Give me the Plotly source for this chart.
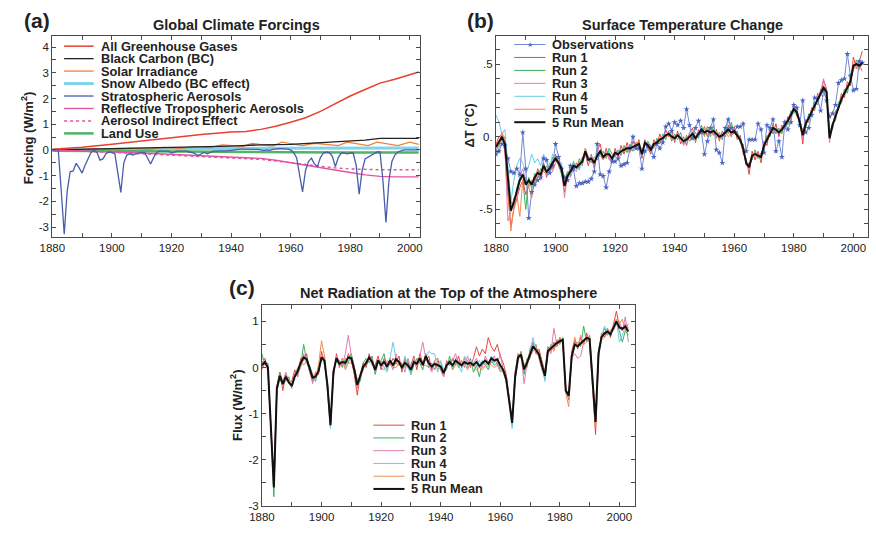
import plotly.graph_objects as go

W, H = 876, 534
years = list(range(1880, 2004))

# ---------------- Panel (a): Global Climate Forcings ----------------
ghg_yr = [1880, 1890, 1900, 1910, 1920, 1930, 1940, 1945, 1950, 1955, 1960, 1965, 1970, 1975, 1980, 1985, 1990, 1995, 2000, 2003]
ghg_val = [0.03, 0.1, 0.22, 0.35, 0.48, 0.6, 0.7, 0.72, 0.8, 0.92, 1.08, 1.25, 1.5, 1.8, 2.1, 2.35, 2.6, 2.75, 2.92, 3.03]

bc_yr = [1880, 1900, 1920, 1940, 1950, 1960, 1970, 1980, 1985, 1990, 2003]
bc_val = [0.0, 0.06, 0.1, 0.15, 0.2, 0.22, 0.28, 0.33, 0.38, 0.45, 0.45]

solar_yr = [1880, 1883, 1889, 1894, 1901, 1906, 1913, 1917, 1923, 1928, 1933, 1937, 1944, 1947, 1954, 1957, 1964, 1968, 1976, 1979, 1986, 1989, 1996, 2000, 2003]
solar_val = [0.0, 0.03, -0.02, 0.05, 0.0, 0.06, 0.02, 0.1, 0.06, 0.13, 0.09, 0.2, 0.14, 0.25, 0.15, 0.3, 0.17, 0.26, 0.17, 0.3, 0.17, 0.3, 0.17, 0.3, 0.22]

snow_yr = [1880, 1900, 1920, 1940, 1960, 1980, 2003]
snow_val = [0.0, 0.03, 0.05, 0.06, 0.07, 0.08, 0.08]

landuse_yr = [1880, 1900, 1920, 1940, 1960, 1980, 2003]
landuse_val = [-0.03, -0.05, -0.07, -0.08, -0.09, -0.1, -0.1]

refl_yr = [1880, 1890, 1900, 1910, 1920, 1930, 1940, 1950, 1955, 1960, 1965, 1970, 1975, 1980, 1985, 1990, 1995, 2003]
refl_val = [0.0, -0.05, -0.08, -0.12, -0.17, -0.22, -0.27, -0.33, -0.4, -0.5, -0.6, -0.7, -0.8, -0.88, -0.97, -1.03, -1.05, -1.05]

indir_yr = [1880, 1890, 1900, 1910, 1920, 1930, 1940, 1950, 1955, 1960, 1965, 1970, 1975, 1980, 1985, 1990, 2003]
indir_val = [0.0, -0.06, -0.1, -0.15, -0.2, -0.25, -0.3, -0.37, -0.43, -0.5, -0.57, -0.63, -0.7, -0.74, -0.76, -0.77, -0.77]

strat_val = [
    0, 0, 0, -1.6, -3.28, -1.6, -0.85, -0.82, -0.52, -0.7,
    -0.9, -0.6, -0.35, -0.1, -0.02, -0.1, -0.4, -0.35, -0.15, -0.08,
    -0.1, -0.15, -0.9, -1.65, -0.5, -0.2, -0.15, -0.2, -0.15, -0.12,
    -0.1, -0.1, -0.3, -0.55, -0.3, -0.1, -0.05, -0.05, -0.05, -0.05,
    -0.12, -0.08, -0.05, -0.05, -0.05, -0.05, -0.08, -0.1, -0.15, -0.22,
    -0.15, -0.1, -0.15, -0.1, -0.05, -0.05, -0.05, -0.05, -0.05, -0.03,
    -0.02, 0, 0.02, 0.03, 0.03, 0.03, 0.02, 0.03, 0.03, 0.02,
    0, -0.02, 0, -0.02, 0.02, 0.05, 0.05, 0.05, 0.05, 0.03,
    0, -0.1, -0.3, -0.9, -1.63, -0.8, -0.45, -0.32, -0.55, -0.65,
    -0.3, -0.12, -0.08, -0.1, -0.25, -0.65, -0.3, -0.12, -0.12, -0.15,
    -0.12, -0.12, -0.6, -1.72, -0.8, -0.35, -0.28, -0.2, -0.12, -0.08,
    -0.08, -1.2, -2.82, -1.2, -0.45, -0.2, -0.08, -0.03, 0, 0,
    0, 0, 0, 0]

# ---------------- Panel (b): Surface Temperature Change ----------------
obs_b = [
    -0.12, -0.10, -0.05, -0.06, -0.15, -0.24, -0.25, -0.22, -0.26, 0.03,
    -0.22, -0.56, -0.38, -0.33, -0.30, -0.28, -0.15, -0.16, -0.25, -0.20,
    -0.05, -0.14, -0.22, -0.28, -0.30, -0.20, -0.22, -0.34, -0.32, -0.32,
    -0.31, -0.31, -0.29, -0.24, -0.05, -0.26, -0.27, -0.35, -0.24, -0.17,
    -0.17, -0.15, -0.20, -0.19, -0.18, -0.08, 0.00, -0.08, -0.08, -0.22,
    -0.10, -0.06, -0.08, -0.14, -0.05, -0.08, -0.04, 0.07, 0.09, 0.04,
    0.10, 0.08, 0.11, 0.06, 0.19, 0.08, -0.01, 0.06, 0.11, 0.03,
    -0.12, -0.03, 0.06, 0.12, -0.09, -0.11, -0.18, 0.06, 0.12, 0.06,
    0.03, 0.07, 0.07, 0.09, -0.10, -0.02, -0.02, -0.02, 0.09, 0.05,
    -0.11, 0.08, 0.06, 0.12, -0.10, -0.03, -0.14, 0.10, 0.05, 0.10,
    0.22, 0.20, 0.08, 0.25, 0.03, 0.06, 0.15, 0.27, 0.26, 0.18,
    0.32, 0.25, 0.14, 0.16, 0.22, 0.37, 0.39, 0.40, 0.57, 0.42,
    0.32, 0.33, 0.52, 0.51]

mean_b = [
    -0.07, -0.03, 0.00, -0.05, -0.30, -0.51, -0.45, -0.38, -0.30, -0.26,
    -0.33, -0.30, -0.33, -0.28, -0.25, -0.26, -0.20, -0.24, -0.22, -0.18,
    -0.15, -0.18, -0.22, -0.34, -0.27, -0.24, -0.20, -0.21, -0.19, -0.17,
    -0.10, -0.16, -0.15, -0.18, -0.13, -0.10, -0.14, -0.12, -0.12, -0.15,
    -0.11, -0.12, -0.10, -0.09, -0.08, -0.08, -0.07, -0.06, -0.05, -0.12,
    -0.04, -0.06, -0.09, -0.05, -0.04, -0.02, -0.01, 0.01, 0.02, 0.00,
    -0.01, 0.01, -0.01, -0.03, -0.02, 0.00, 0.02, -0.01, 0.02, 0.05,
    0.03, 0.04, 0.03, 0.04, 0.02, 0.00, 0.01, 0.03, 0.05, 0.03,
    0.04, 0.01, -0.02, -0.08, -0.18, -0.21, -0.13, -0.12, -0.13, -0.14,
    -0.06, -0.02, 0.03, 0.06, 0.05, 0.03, 0.05, 0.08, 0.11, 0.15,
    0.19, 0.17, 0.10, 0.01, 0.09, 0.13, 0.17, 0.21, 0.26, 0.30,
    0.34, 0.31, -0.01, 0.08, 0.14, 0.21, 0.26, 0.30, 0.34, 0.38,
    0.49, 0.50, 0.49, 0.51]

run1_b = [
    -0.05, 0.00, 0.02, -0.10, -0.40, -0.62, -0.50, -0.42, -0.35, -0.30,
    -0.40, -0.33, -0.30, -0.32, -0.22, -0.28, -0.18, -0.28, -0.20, -0.22,
    -0.12, -0.20, -0.25, -0.38, -0.30, -0.20, -0.24, -0.18, -0.22, -0.14,
    -0.12, -0.20, -0.12, -0.22, -0.10, -0.05, -0.15, -0.08, -0.14, -0.18,
    -0.08, -0.14, -0.06, -0.12, -0.04, -0.10, -0.03, -0.08, -0.02, -0.15,
    -0.02, -0.08, -0.12, -0.02, -0.06, 0.02, -0.04, 0.05, 0.00, 0.04,
    -0.04, 0.04, -0.05, 0.00, -0.06, 0.03, 0.06, -0.04, 0.05, 0.02,
    0.07, 0.00, 0.06, 0.01, 0.05, -0.03, 0.04, 0.00, 0.08, 0.00,
    0.07, -0.02, 0.01, -0.12, -0.15, -0.26, -0.10, -0.16, -0.10, -0.18,
    -0.03, -0.06, 0.06, 0.02, 0.09, 0.00, 0.08, 0.05, 0.14, 0.12,
    0.22, 0.14, 0.13, -0.05, 0.12, 0.10, 0.20, 0.18, 0.30, 0.28,
    0.39, 0.33, 0.02, 0.05, 0.18, 0.20, 0.30, 0.27, 0.38, 0.35,
    0.55, 0.47, 0.52, 0.59]

run2_b = [
    -0.10, -0.05, -0.02, 0.00, -0.25, -0.45, -0.48, -0.35, -0.28, -0.30,
    -0.50, -0.28, -0.36, -0.25, -0.28, -0.22, -0.24, -0.20, -0.25, -0.14,
    -0.17, -0.15, -0.26, -0.30, -0.24, -0.27, -0.17, -0.22, -0.15, -0.20,
    -0.08, -0.14, -0.18, -0.14, -0.16, -0.12, -0.10, -0.15, -0.08, -0.12,
    -0.14, -0.09, -0.13, -0.06, -0.11, -0.05, -0.10, -0.04, -0.08, -0.10,
    -0.06, -0.03, -0.07, -0.08, -0.01, -0.05, 0.02, -0.02, 0.04, -0.03,
    0.02, -0.02, 0.03, -0.05, 0.01, -0.03, 0.00, 0.03, -0.01, 0.08,
    0.01, 0.07, 0.00, 0.08, -0.01, 0.03, -0.02, 0.06, 0.02, 0.10,
    0.02, 0.04, -0.04, -0.05, -0.20, -0.18, -0.16, -0.09, -0.15, -0.11,
    -0.09, 0.01, 0.00, 0.09, 0.02, 0.06, 0.02, 0.11, 0.08, 0.18,
    0.16, 0.20, 0.07, 0.04, 0.06, 0.16, 0.14, 0.24, 0.22, 0.33,
    0.30, 0.28, 0.01, 0.10, 0.11, 0.24, 0.23, 0.33, 0.30, 0.41,
    0.46, 0.53, 0.47, 0.50]

run3_b = [
    -0.08, -0.06, 0.03, -0.08, -0.58, -0.52, -0.42, -0.45, -0.27, -0.22,
    -0.30, -0.35, -0.30, -0.33, -0.27, -0.30, -0.22, -0.26, -0.18, -0.24,
    -0.18, -0.16, -0.20, -0.42, -0.25, -0.28, -0.22, -0.24, -0.18, -0.19,
    -0.12, -0.13, -0.17, -0.20, -0.11, -0.13, -0.16, -0.10, -0.16, -0.13,
    -0.10, -0.15, -0.12, -0.07, -0.09, -0.11, -0.06, -0.09, -0.07, -0.11,
    -0.05, -0.09, -0.06, -0.07, -0.05, -0.04, 0.00, -0.01, 0.03, 0.02,
    -0.03, 0.02, 0.00, -0.06, -0.01, 0.02, -0.02, 0.01, 0.03, 0.04,
    0.05, 0.02, 0.05, 0.03, 0.00, 0.02, 0.00, 0.04, 0.03, 0.05,
    0.06, 0.00, -0.03, -0.10, -0.17, -0.22, -0.12, -0.14, -0.12, -0.15,
    -0.04, -0.03, 0.02, 0.08, 0.03, 0.05, 0.04, 0.09, 0.10, 0.16,
    0.20, 0.16, 0.12, -0.02, 0.10, 0.14, 0.16, 0.22, 0.25, 0.31,
    0.40, 0.30, -0.04, 0.09, 0.15, 0.19, 0.28, 0.29, 0.36, 0.37,
    0.50, 0.48, 0.46, 0.52]

run4_b = [
    0.15, 0.10, 0.02, 0.05, -0.20, -0.45, -0.30, -0.20, -0.15, -0.18,
    -0.25, -0.20, -0.12, -0.18, -0.15, -0.20, -0.12, -0.18, -0.22, -0.12,
    -0.14, -0.20, -0.18, -0.30, -0.26, -0.22, -0.18, -0.20, -0.23, -0.15,
    -0.11, -0.17, -0.13, -0.16, -0.14, -0.09, -0.14, -0.13, -0.10, -0.17,
    -0.12, -0.10, -0.09, -0.10, -0.07, -0.06, -0.09, -0.05, -0.04, -0.13,
    -0.03, -0.05, -0.10, -0.04, -0.03, -0.01, -0.02, 0.02, 0.01, -0.01,
    0.00, 0.00, -0.02, -0.01, -0.04, 0.01, 0.03, -0.03, 0.01, 0.06,
    0.02, 0.05, 0.02, 0.05, 0.03, -0.01, 0.02, 0.01, 0.12, 0.02,
    0.03, 0.02, -0.01, -0.07, -0.19, -0.20, -0.14, -0.11, -0.14, -0.13,
    -0.07, -0.01, 0.04, 0.05, 0.06, 0.02, 0.06, 0.07, 0.12, 0.14,
    0.18, 0.18, 0.09, 0.03, 0.08, 0.12, 0.18, 0.20, 0.27, 0.29,
    0.33, 0.32, 0.00, 0.07, 0.13, 0.22, 0.25, 0.31, 0.33, 0.39,
    0.48, 0.51, 0.50, 0.49]

run5_b = [
    -0.12, -0.08, 0.03, -0.02, -0.35, -0.65, -0.48, -0.40, -0.55, -0.30,
    -0.28, -0.36, -0.42, -0.30, -0.28, -0.25, -0.24, -0.26, -0.22, -0.17,
    -0.16, -0.19, -0.21, -0.30, -0.29, -0.23, -0.19, -0.21, -0.17, -0.17,
    -0.08, -0.16, -0.15, -0.18, -0.14, -0.11, -0.15, -0.14, -0.12, -0.15,
    -0.11, -0.12, -0.10, -0.10, -0.09, -0.08, -0.07, -0.04, -0.04, -0.11,
    -0.04, -0.05, -0.10, -0.04, -0.05, -0.02, -0.01, 0.01, 0.02, -0.02,
    0.00, 0.01, -0.01, -0.03, 0.00, -0.03, 0.03, -0.02, 0.02, 0.05,
    0.00, 0.06, 0.02, 0.03, 0.03, -0.01, 0.01, 0.04, 0.00, 0.03,
    0.02, 0.01, -0.03, -0.06, -0.19, -0.19, -0.13, -0.10, -0.14, -0.13,
    -0.07, 0.00, 0.03, 0.06, 0.05, 0.02, 0.05, 0.08, 0.11, 0.15,
    0.19, 0.17, 0.09, 0.05, 0.09, 0.13, 0.17, 0.21, 0.26, 0.29,
    0.28, 0.32, 0.00, 0.09, 0.13, 0.20, 0.24, 0.30, 0.33, 0.38,
    0.46, 0.51, 0.50, 0.45]

# ---------------- Panel (c): Net Radiation at the Top of the Atmosphere ----------------
mean_c = [
    0.05, 0.12, 0.00, -1.30, -2.60, -0.46, -0.18, -0.36, -0.20, -0.32,
    -0.40, -0.20, -0.08, 0.10, 0.22, 0.18, -0.05, -0.22, -0.20, -0.08,
    0.22, 0.15, -0.40, -1.25, -0.10, 0.20, 0.08, 0.12, 0.10, 0.22,
    0.20, -0.05, -0.38, -0.20, 0.02, 0.10, 0.22, 0.12, -0.05, 0.15,
    0.05, 0.12, 0.02, 0.15, 0.05, 0.18, 0.12, 0.00, 0.10, 0.05,
    -0.05, 0.12, 0.08, 0.20, 0.05, 0.25, 0.10, 0.02, 0.08, 0.05,
    0.02, -0.12, 0.05, 0.12, 0.05, 0.15, 0.10, 0.05, 0.12, 0.08,
    0.10, 0.05, 0.12, 0.03, 0.10, 0.15, 0.08, 0.20, 0.15, 0.18,
    0.05, -0.05, -0.25, -0.70, -1.20, -0.20, 0.22, 0.28, -0.04, 0.10,
    0.30, 0.46, 0.38, 0.29, 0.05, -0.18, 0.36, 0.42, 0.47, 0.53,
    0.57, 0.60, -0.50, -0.61, 0.25, 0.50, 0.46, 0.52, 0.58, 0.64,
    0.62, -0.35, -1.18, 0.30, 0.66, 0.74, 0.78, 0.72, 0.88, 1.00,
    0.87, 0.84, 0.89, 0.78]

run1_c = [
    0.10, 0.20, -0.05, -1.20, -2.50, -0.40, -0.10, -0.50, -0.15, -0.35,
    -0.30, -0.05, -0.20, 0.20, 0.15, 0.30, -0.10, -0.30, -0.10, -0.15,
    0.35, 0.05, -0.30, -1.20, -0.20, 0.30, 0.00, 0.20, 0.05, 0.30,
    0.15, -0.15, -0.60, -0.15, 0.10, 0.00, 0.30, 0.05, 0.05, 0.25,
    -0.05, 0.20, 0.10, 0.05, 0.20, 0.10, 0.25, -0.10, 0.20, 0.00,
    0.05, 0.25, -0.05, 0.30, 0.10, 0.15, 0.25, -0.05, 0.15, 0.20,
    -0.05, -0.20, 0.15, 0.05, 0.20, 0.05, 0.25, 0.00, 0.20, 0.15,
    0.00, 0.20, 0.45, 0.25, 0.40, 0.30, 0.65, 0.45, 0.35, 0.50,
    0.25, 0.10, -0.15, -0.65, -1.15, -0.10, 0.30, 0.20, 0.05, 0.00,
    0.40, 0.55, 0.30, 0.40, 0.15, -0.10, 0.45, 0.35, 0.55, 0.45,
    0.65, 0.55, -0.45, -0.70, 0.35, 0.60, 0.40, 0.65, 0.50, 0.75,
    0.55, -0.40, -1.45, 0.20, 0.75, 0.65, 0.85, 0.65, 0.95, 1.22,
    0.90, 0.80, 0.95, 0.85]

run2_c = [
    0.30, 0.05, 0.10, -1.40, -2.80, -0.55, -0.10, -0.30, -0.30, -0.20,
    -0.45, -0.20, 0.00, 0.05, 0.50, 0.15, 0.05, -0.15, -0.30, 0.00,
    0.15, 0.25, -0.45, -1.30, -0.05, 0.15, 0.15, 0.00, 0.20, 0.10,
    0.30, 0.00, -0.30, -0.30, 0.10, 0.20, 0.10, 0.25, -0.15, 0.10,
    0.15, 0.30, -0.05, 0.20, 0.00, 0.10, 0.05, 0.10, 0.00, 0.15,
    -0.15, 0.05, 0.20, 0.10, -0.05, 0.30, 0.00, 0.10, -0.05, 0.15,
    0.10, -0.05, -0.05, 0.25, -0.05, 0.20, 0.00, 0.15, 0.05, 0.00,
    0.20, -0.10, 0.05, -0.20, 0.15, 0.05, -0.05, 0.15, 0.05, 0.10,
    -0.05, -0.10, -0.30, -0.75, -1.25, -0.25, 0.15, 0.35, -0.15, 0.20,
    0.25, 0.40, 0.50, 0.20, 0.00, -0.25, 0.30, 0.50, 0.40, 0.60,
    0.50, 0.65, -0.55, -0.55, 0.20, 0.45, 0.55, 0.45, 0.90, 0.55,
    0.70, -0.30, -1.10, 0.40, 0.60, 0.85, 0.70, 0.80, 0.85, 0.95,
    0.80, 0.55, 0.80, 0.70]

run3_c = [
    0.00, 0.15, -0.10, -1.35, -2.55, -0.40, -0.30, -0.30, -0.10, -0.30,
    -0.40, -0.10, -0.15, 0.00, 0.30, 0.10, -0.05, -0.35, -0.15, -0.05,
    0.20, 0.10, -0.45, -1.25, -0.15, 0.25, 0.15, 0.05, 0.30, 0.70,
    0.25, 0.05, -0.45, -0.15, 0.00, 0.05, 0.25, 0.20, -0.10, 0.15,
    0.00, -0.05, 0.15, 0.10, -0.05, 0.30, 0.05, 0.10, -0.10, 0.20,
    0.00, 0.05, 0.15, 0.25, 0.55, 0.20, 0.05, -0.10, 0.10, -0.05,
    0.00, -0.20, 0.10, 0.05, 0.15, 0.30, 0.05, 0.15, 0.00, 0.25,
    0.05, 0.10, 0.20, 0.05, 0.00, 0.25, 0.10, 0.10, 0.25, 0.05,
    0.30, -0.05, -0.20, -0.70, -1.15, -0.15, 0.25, 0.30, -0.35, 0.10,
    0.20, 0.55, 0.30, 0.25, -0.05, -0.15, 0.40, 0.30, 0.85, 0.50,
    0.55, 0.60, -0.45, -0.60, 0.20, 0.30, 0.20, 0.25, 0.55, 0.70,
    0.55, -0.40, -1.20, 0.25, 0.70, 0.70, 0.85, 0.75, 0.80, 0.95,
    1.00, 0.80, 1.10, 0.55]

run4_c = [
    0.20, 0.10, 0.05, -1.25, -2.60, -0.50, -0.25, -0.35, -0.25, -0.30,
    -0.35, -0.20, -0.05, 0.10, 0.15, 0.20, -0.10, -0.20, -0.25, -0.05,
    0.20, 0.10, -0.40, -1.32, -0.05, 0.15, 0.05, 0.15, 0.00, 0.15,
    0.20, -0.10, -0.30, -0.20, -0.05, 0.15, 0.20, 0.05, 0.00, 0.10,
    0.15, 0.00, -0.10, 0.20, 0.55, 0.18, 0.15, -0.05, 0.25, 0.00,
    -0.15, 0.20, 0.05, 0.15, 0.10, 0.20, 0.35, 0.30, 0.30, -0.10,
    0.15, -0.05, 0.00, 0.10, 0.00, 0.20, 0.05, -0.10, 0.25, 0.05,
    0.15, 0.10, 0.00, 0.15, 0.05, 0.10, 0.00, 0.25, 0.10, 0.20,
    0.00, -0.10, -0.30, -0.75, -1.32, -0.25, 0.20, 0.25, -0.05, 0.05,
    0.35, 0.65, 0.35, 0.30, 0.05, -0.30, 0.35, 0.50, 0.45, 0.50,
    0.60, 0.60, -0.50, -0.65, 0.30, 0.50, 0.50, 0.55, 0.60, 0.65,
    0.60, -0.35, -1.20, 0.30, 0.65, 0.90, 0.75, 0.70, 0.85, 1.05,
    0.55, 0.70, 0.90, 0.85]

run5_c = [
    -0.05, 0.10, 0.00, -1.30, -2.55, -0.45, -0.15, -0.35, -0.20, -0.25,
    -0.40, -0.20, -0.05, 0.15, 0.05, 0.15, 0.00, -0.15, -0.20, 0.05,
    0.58, 0.25, -0.40, -1.20, -0.05, 0.15, 0.05, 0.20, -0.05, 0.10,
    0.10, 0.00, -0.25, -0.20, -0.05, 0.15, 0.20, 0.10, -0.05, 0.20,
    0.10, 0.15, 0.00, 0.20, 0.00, 0.00, 0.10, 0.05, 0.15, 0.00,
    0.00, 0.10, 0.05, 0.15, 0.05, 0.05, 0.00, 0.05, -0.05, 0.10,
    -0.05, -0.10, 0.05, 0.15, -0.05, 0.05, 0.15, 0.10, 0.10, -0.05,
    0.10, 0.05, -0.05, 0.00, -0.05, 0.05, 0.10, 0.05, 0.00, 0.05,
    -0.10, -0.05, -0.30, -0.65, -1.15, -0.25, 0.20, 0.30, 0.05, 0.15,
    0.25, 0.35, 0.45, 0.30, 0.10, -0.10, 0.30, 0.45, 0.35, 0.60,
    0.55, 0.60, -0.55, -0.85, 0.20, 0.65, 0.45, 0.70, 0.50, 0.55,
    0.70, -0.30, -1.25, 0.35, 0.60, 0.65, 0.75, 0.80, 0.90, 1.05,
    0.95, 1.05, 0.80, 0.95]

for name, arr in [("strat", strat_val), ("obs_b", obs_b), ("mean_b", mean_b), ("run1_b", run1_b),
                  ("run2_b", run2_b), ("run3_b", run3_b), ("run4_b", run4_b), ("run5_b", run5_b),
                  ("mean_c", mean_c), ("run1_c", run1_c), ("run2_c", run2_c), ("run3_c", run3_c),
                  ("run4_c", run4_c), ("run5_c", run5_c)]:
    assert len(arr) == len(years), (name, len(arr))

# labels
labels_a = ["All Greenhouse Gases", "Black Carbon (BC)", "Solar Irradiance", "Snow Albedo (BC effect)",
            "Stratospheric Aerosols", "Reflective Tropospheric Aerosols", "Aerosol Indirect Effect", "Land Use"]
labels_b = ["Observations", "Run 1", "Run 2", "Run 3", "Run 4", "Run 5", "5 Run Mean"]
labels_c = ["Run 1", "Run 2", "Run 3", "Run 4", "Run 5", "5 Run Mean"]
x_ticks = [1880, 1900, 1920, 1940, 1960, 1980, 2000]

# styles
C_GHG = "#e8412f"; C_BC = "#222222"; C_SOL = "#f0803c"; C_SNOW = "#7fd3ea"
C_STRAT = "#4a5cae"; C_REFL = "#e0569f"; C_LAND = "#4fb466"
C_R1 = "#e8463c"; C_R2 = "#3fae5c"; C_R3 = "#e27bb0"; C_R4 = "#6ccbe6"; C_R5 = "#f08a52"
C_OBS = "#4a64c4"; C_MEAN = "#111111"
FONT = "Liberation Sans, Arial, Helvetica, sans-serif"

def px(x):
    return x / W

def py(y):
    return 1 - y / H

fig = go.Figure()

def line(x, y, color, width, xa, ya, dash="solid", mode="lines", marker=None):
    kw = dict(x=x, y=y, mode=mode, line=dict(color=color, width=width, dash=dash),
              xaxis=xa, yaxis=ya, showlegend=False, hoverinfo="skip")
    if marker:
        kw["marker"] = marker
    fig.add_trace(go.Scatter(**kw))

# Panel a traces
line(snow_yr, snow_val, C_SNOW, 3, "x", "y")
line(landuse_yr, landuse_val, C_LAND, 2.5, "x", "y")
line(solar_yr, solar_val, C_SOL, 1.3, "x", "y")
line(bc_yr, bc_val, C_BC, 1.3, "x", "y")
line(refl_yr, refl_val, C_REFL, 1.4, "x", "y")
line(indir_yr, indir_val, C_REFL, 1.4, "x", "y", dash="dot")
line(ghg_yr, ghg_val, C_GHG, 1.5, "x", "y")
line(years, strat_val, C_STRAT, 1.3, "x", "y")

# Panel b traces
for arr, col in [(run1_b, C_R1), (run2_b, C_R2), (run3_b, C_R3), (run4_b, C_R4), (run5_b, C_R5)]:
    line(years, arr, col, 1, "x2", "y2")
line(years, obs_b, "#7089d6", 1, "x2", "y2", mode="lines+markers",
     marker=dict(symbol="star", size=4.5, color=C_OBS, line=dict(width=0)))
line(years, mean_b, C_MEAN, 2, "x2", "y2")

# Panel c traces
for arr, col in [(run1_c, C_R1), (run2_c, C_R2), (run3_c, C_R3), (run4_c, C_R4), (run5_c, C_R5)]:
    line(years, arr, col, 1, "x3", "y3")
line(years, mean_c, C_MEAN, 2, "x3", "y3")

# axes
def axis_style(**kw):
    d = dict(showline=True, linecolor="#4a4a4a", linewidth=1, mirror="ticks", ticks="inside",
             ticklen=4, tickcolor="#4a4a4a", tickwidth=1, showgrid=False, zeroline=False,
             tickfont=dict(family=FONT, size=11.5, color="#222222"))
    d.update(kw)
    return d

xminor = dict(ticks="inside", ticklen=4, tickcolor="#4a4a4a", tickmode="array",
              tickvals=list(range(1880, 2010, 10)), showgrid=False)

ydom_top = [py(240), py(36.5)]

fig.update_layout(
    width=W, height=H, margin=dict(l=0, r=0, t=0, b=0),
    paper_bgcolor="white", plot_bgcolor="white",
    font=dict(family=FONT, color="#222222"),
    xaxis=axis_style(domain=[px(40), px(414)], range=[1880, 2003.4], anchor="y",
                     tickmode="array", tickvals=x_ticks, ticktext=[str(v) for v in x_ticks], minor=xminor),
    yaxis=axis_style(domain=ydom_top, range=[-3.40, 4.43], anchor="x",
                     tickmode="array", tickvals=[-3, -2, -1, 0, 1, 2, 3, 4],
                     ticktext=["-3", "-2", "-1", "0", "1", "2", "3", "4"],
                     minor=dict(ticks="inside", ticklen=4, tickcolor="#4a4a4a", tickmode="array",
                                tickvals=[-3.5 + 0.5 * i for i in range(17)], showgrid=False)),
    xaxis2=axis_style(domain=[px(491.4), px(870)], range=[1880, 2004.95], anchor="y2",
                      tickmode="array", tickvals=x_ticks, ticktext=[str(v) for v in x_ticks], minor=xminor),
    yaxis2=axis_style(domain=ydom_top, range=[-0.693, 0.694], anchor="x2",
                      tickmode="array", tickvals=[-0.5, 0, 0.5], ticktext=["-.5", "0.", ".5"],
                      minor=dict(ticks="inside", ticklen=4, tickcolor="#4a4a4a", tickmode="array",
                                 tickvals=[round(-0.7 + 0.1 * i, 2) for i in range(15)], showgrid=False)),
    xaxis3=axis_style(domain=[px(253.3), px(633)], range=[1880, 2005.3], anchor="y3",
                      tickmode="array", tickvals=x_ticks, ticktext=[str(v) for v in x_ticks], minor=xminor),
    yaxis3=axis_style(domain=[py(511.7), py(308)], range=[-3.0, 1.365], anchor="x3",
                      tickmode="array", tickvals=[-3, -2, -1, 0, 1], ticktext=["-3", "-2", "-1", "0", "1"],
                      minor=dict(ticks="inside", ticklen=4, tickcolor="#4a4a4a", tickmode="array",
                                 tickvals=[-3 + 0.5 * i for i in range(9)], showgrid=False)),
)

annotations = []
shapes = []

def text(x, y, s, size, anchor="center", angle=0, bold=True, color="#222222"):
    annotations.append(dict(x=px(x), y=py(y), xref="paper", yref="paper", text=s, showarrow=False,
                            xanchor=anchor, yanchor="middle", textangle=angle,
                            font=dict(family=FONT, size=size, color=color,
                                      weight="bold" if bold else "normal")))

# panel letters and titles
text(24, 21, "(a)", 21)
text(227, 25, "Global Climate Forcings", 14.5)
text(476, 21, "(b)", 21)
text(680.7, 25, "Surface Temperature Change", 14.5)
text(232.5, 291, "(c)", 21)
text(443, 296.7, "Net Radiation at the Top of the Atmosphere", 14.5)

# axis titles
text(15, 140, "Forcing (W/m<sup>2</sup>)", 13, angle=-90)
text(465, 127, "ΔT (°C)", 13, angle=-90)
text(227.5, 410, "Flux (W/m<sup>2</sup>)", 13, angle=-90)

def legend_entry(x0, x1, xt, y, label, color, width, dash="solid"):
    shapes.append(dict(type="line", xref="paper", yref="paper", x0=px(x0), x1=px(x1), y0=py(y), y1=py(y),
                       line=dict(color=color, width=width, dash=dash)))
    text(xt, y, label, 12.8, anchor="left")

# legend a
styles_a = [(C_GHG, 1.5, "solid"), (C_BC, 1.3, "solid"), (C_SOL, 1.3, "solid"), (C_SNOW, 3, "solid"),
            (C_STRAT, 1.3, "solid"), (C_REFL, 1.4, "solid"), (C_REFL, 1.6, "dot"), (C_LAND, 2.5, "solid")]
for i, (lab, (c, w, d)) in enumerate(zip(labels_a, styles_a)):
    legend_entry(52, 82, 87, 46.7 + 12.6 * i, lab, c, w, d)

# legend b
styles_b = [("#7089d6", 1), (C_R1, 1), (C_R2, 1), (C_R3, 1), (C_R4, 1), (C_R5, 1), (C_MEAN, 2)]
for i, (lab, (c, w)) in enumerate(zip(labels_b, styles_b)):
    legend_entry(510, 541.7, 546, 45 + 13.1 * i, lab, c, w)
text(525.8, 45, "★", 7, bold=False, color=C_OBS)

# legend c
styles_c = [(C_R1, 1), (C_R2, 1), (C_R3, 1), (C_R4, 1), (C_R5, 1), (C_MEAN, 2)]
for i, (lab, (c, w)) in enumerate(zip(labels_c, styles_c)):
    legend_entry(366.7, 398.3, 402.7, 430 + 12.9 * i, lab, c, w)

fig.update_layout(annotations=annotations, shapes=shapes)
fig.write_html("out.html")
